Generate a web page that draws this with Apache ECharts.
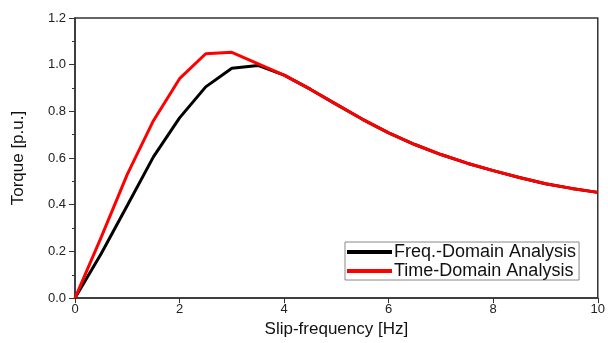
<!DOCTYPE html>
<html><head><meta charset="utf-8">
<script src="https://cdn.jsdelivr.net/npm/echarts@6/dist/echarts.min.js"></script>
<style>html,body{margin:0;padding:0;background:#fff}#c{width:608px;height:343px}</style>
</head><body><div id="c"></div>
<script>
const slipFreq = [0, 0.5, 1, 1.5, 2, 2.5, 3, 3.5, 4, 4.5, 5, 5.5, 6, 6.5, 7, 7.5, 8, 8.5, 9, 9.5, 10];
const freqDomain = [0, 0.19, 0.397, 0.605, 0.772, 0.905, 0.985, 0.997, 0.955, 0.895, 0.83, 0.766, 0.708, 0.658, 0.615, 0.578, 0.546, 0.517, 0.49, 0.47, 0.453];
const timeSlip = [0, 0.5, 1, 1.5, 2, 2.5, 3, 4, 4.5, 5, 5.5, 6, 6.5, 7, 7.5, 8, 8.5, 9, 9.5, 10];
const timeDomain = [0, 0.26, 0.53, 0.76, 0.94, 1.047, 1.053, 0.955, 0.895, 0.83, 0.766, 0.708, 0.658, 0.615, 0.578, 0.546, 0.517, 0.49, 0.47, 0.453];
const xTicks = [0, 2, 4, 6, 8, 10];
const yTicks = [0, 0.2, 0.4, 0.6, 0.8, 1.0, 1.2];
const seriesNames = ['Freq.-Domain Analysis', 'Time-Domain Analysis'];

const font = 'Liberation Sans, Arial, sans-serif';
const axisCol = '#333';
const chart = echarts.init(document.getElementById('c'), null, {renderer: 'canvas'});
chart.setOption({
  animation: false,
  backgroundColor: '#fff',
  grid: {left: 75, right: 8, top: 18, bottom: 37, show: true, borderColor: axisCol, borderWidth: 1.5},
  legend: {
    left: 345, top: 242, orient: 'vertical', itemGap: 1,
    itemWidth: 45, itemHeight: 4, icon: 'rect',
    borderColor: '#888', borderWidth: 1, borderRadius: 0, padding: [1, 3, 0, 2],
    textStyle: {fontFamily: font, fontSize: 18, color: '#111', padding: [0, 0, 0, -3]},
    data: seriesNames
  },
  xAxis: {
    type: 'value', min: xTicks[0], max: xTicks[xTicks.length - 1], interval: 2,
    name: 'Slip-frequency [Hz]', nameLocation: 'middle', nameGap: 19,
    nameTextStyle: {fontFamily: font, fontSize: 17, color: '#111'},
    axisLine: {lineStyle: {color: axisCol, width: 1.5}},
    axisTick: {show: true, inside: false, length: 5, lineStyle: {color: axisCol}},
    axisLabel: {fontFamily: font, fontSize: 13, color: '#222', margin: 5},
    splitLine: {show: false}
  },
  yAxis: {
    type: 'value', min: yTicks[0], max: yTicks[yTicks.length - 1], interval: 0.2,
    name: 'Torque [p.u.]', nameLocation: 'middle', nameGap: 48,
    nameTextStyle: {fontFamily: font, fontSize: 17, color: '#111'},
    axisLine: {show: true, lineStyle: {color: axisCol, width: 1.5}},
    axisTick: {show: true, inside: false, length: 6, lineStyle: {color: axisCol}},
    minorTick: {show: true, splitNumber: 2, length: 3, lineStyle: {color: axisCol}},
    axisLabel: {fontFamily: font, fontSize: 13, color: '#222', margin: 9, formatter: v => v.toFixed(1)},
    splitLine: {show: false}
  },
  series: [
    {name: seriesNames[0], type: 'line', data: slipFreq.map((x, i) => [x, freqDomain[i]]),
     showSymbol: false, lineStyle: {color: '#000', width: 3}, itemStyle: {color: '#000'}},
    {name: seriesNames[1], type: 'line', data: timeSlip.map((x, i) => [x, timeDomain[i]]),
     showSymbol: false, lineStyle: {color: '#ff0000', width: 3}, itemStyle: {color: '#ff0000'}}
  ]
});
</script></body></html>
